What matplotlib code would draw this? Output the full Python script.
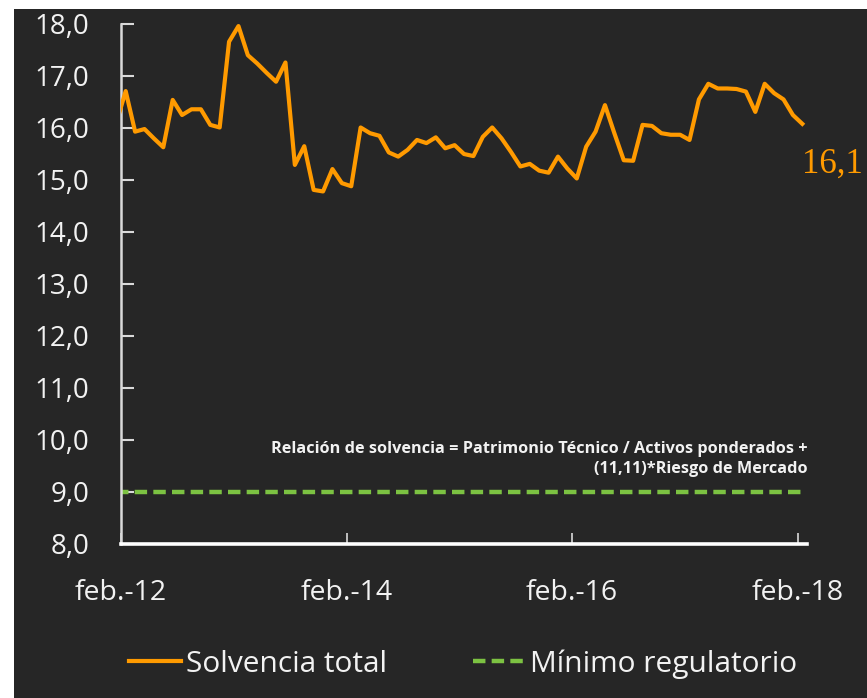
import numpy as np
import pandas as pd
import matplotlib
matplotlib.use("Agg")
from matplotlib import pyplot as plt
from matplotlib.patches import Rectangle

# monthly solvency ratio, jan-12 .. feb-18 (%)
solvencia = [16.10,
             16.71, 15.93, 15.98, 15.80, 15.63, 16.54, 16.25, 16.36, 16.36, 16.06, 16.01, 17.66,
             17.96, 17.40, 17.24, 17.06, 16.89, 17.26, 15.29, 15.65, 14.81, 14.78, 15.21, 14.94,
             14.88, 16.01, 15.90, 15.85, 15.53, 15.45, 15.58, 15.77, 15.71, 15.82, 15.61, 15.67,
             15.50, 15.46, 15.83, 16.01, 15.80, 15.54, 15.26, 15.31, 15.18, 15.14, 15.45, 15.22,
             15.03, 15.64, 15.93, 16.44, 15.90, 15.38, 15.37, 16.06, 16.04, 15.90, 15.87, 15.87,
             15.77, 16.55, 16.85, 16.76, 16.76, 16.75, 16.70, 16.31, 16.85, 16.67, 16.55, 16.25,
             16.08]
minimo = 9.0
fechas = pd.date_range("2012-01-01", periods=len(solvencia), freq="MS")

yticks = [8, 9, 10, 11, 12, 13, 14, 15, 16, 17, 18]
ytick_labels = ["8,0", "9,0", "10,0", "11,0", "12,0", "13,0", "14,0",
                "15,0", "16,0", "17,0", "18,0"]
xtick_labels = ["feb.-12", "feb.-14", "feb.-16", "feb.-18"]
nota = ("Relación de solvencia = Patrimonio Técnico / Activos ponderados +\n"
        "(11,11)*Riesgo de Mercado")

bg = "#262626"
orange = "#ff9a00"
green = "#7cc242"
txt = "#f2f2f2"

# months since feb-12, points centred in their month
x = (fechas.year - 2012) * 12 + fechas.month - 2 + 0.5
xtick_pos = [0, 24, 48, 72]

fig = plt.figure(figsize=(8.67, 6.98), dpi=100, facecolor="white")
fig.patches.append(Rectangle((14 / 867, 0), 1, 1 - 9 / 698, transform=fig.transFigure,
                             facecolor=bg, edgecolor="none", zorder=-5))
ax = fig.add_axes([121 / 867, 1 - 544 / 698, 686 / 867, 520 / 698])
ax.set_facecolor(bg)

ax.plot(x, solvencia, color=orange, lw=3, solid_joinstyle="round",
        label="Solvencia total", zorder=3)
ax.plot(x, [minimo] * len(x), color=green, lw=3.2, dashes=(2.8, 1.4),
        label="Mínimo regulatorio", zorder=2)

ax.set_xlim(0, 73)
ax.set_ylim(8, 18)
for s in ["top", "right"]:
    ax.spines[s].set_visible(False)
ax.spines["left"].set_color("#d9d9d9")
ax.spines["left"].set_linewidth(1.8)
ax.spines["bottom"].set_color("white")
ax.spines["bottom"].set_linewidth(2.6)

ax.set_yticks(yticks)
ax.set_yticklabels(ytick_labels)
ax.set_xticks(xtick_pos)
ax.set_xticklabels(xtick_labels)
ax.tick_params(axis="y", direction="in", length=9, width=1.5, color="#d9d9d9",
               pad=23, labelsize=20, labelcolor=txt)
ax.tick_params(axis="x", direction="in", length=8, width=1.2, color="#d9d9d9",
               pad=25, labelsize=20.5, labelcolor=txt)
for lab in ax.get_xticklabels() + ax.get_yticklabels():
    lab.set_fontfamily("Open Sans")

ax.annotate(f"{solvencia[-1]:.1f}".replace(".", ","), xy=(x[-1], solvencia[-1]),
            xytext=(0, -29), textcoords="offset points", ha="left", va="center",
            color=orange, fontsize=25, family="Liberation Serif", annotation_clip=False)

fig.text(808 / 867, 1 - 459 / 698, nota, ha="right", va="center", color=txt,
         fontsize=11.7, fontweight="bold", family="Open Sans", linespacing=1.35)

leg = fig.legend(loc="center", bbox_to_anchor=(463 / 867, 1 - 664 / 698), ncol=2,
                 frameon=False, handlelength=1.75, handletextpad=0.15, columnspacing=2.9,
                 prop={"family": "Open Sans", "size": 21.5})
for t in leg.get_texts():
    t.set_color(txt)

fig.savefig("out.png", dpi=100, facecolor=fig.get_facecolor())
